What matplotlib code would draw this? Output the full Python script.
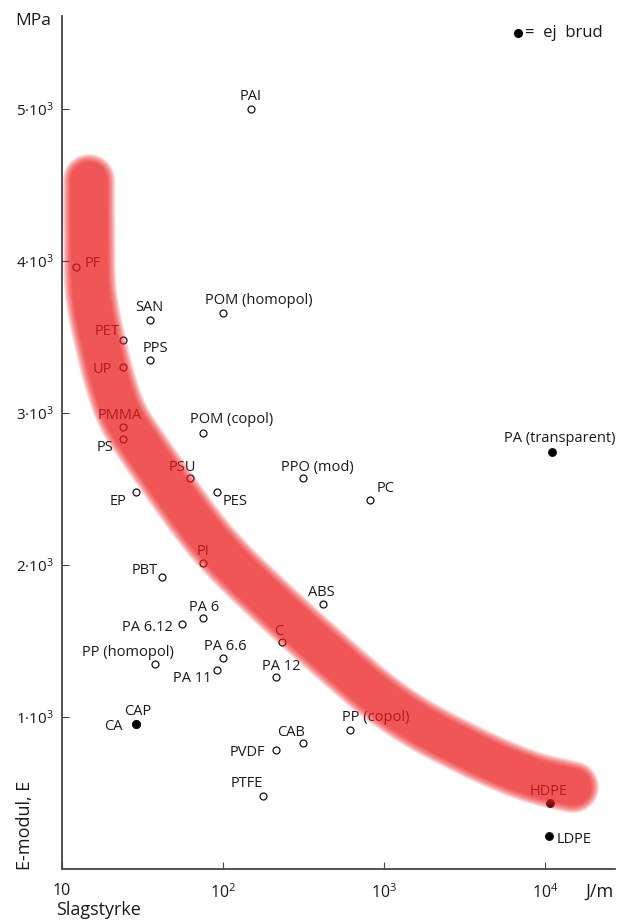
import matplotlib

matplotlib.use("Agg")
import matplotlib.pyplot as plt
from matplotlib.path import Path
from matplotlib.patches import PathPatch
from matplotlib.ticker import FixedLocator, FixedFormatter, NullLocator

plt.rcParams["font.family"] = ["Open Sans", "DejaVu Sans"]
plt.rcParams["mathtext.fontset"] = "custom"
plt.rcParams["mathtext.rm"] = "Open Sans"
plt.rcParams["mathtext.it"] = "Open Sans:italic"
plt.rcParams["mathtext.bf"] = "Open Sans:bold"

# plastics: impact strength (J/m) vs. elastic modulus (MPa)
names = [
    "PAI", "PF", "SAN", "POM (homopol)", "PET", "PPS", "UP", "PMMA", "PS",
    "POM (copol)", "PSU", "PPO (mod)", "PC", "PA (transparent)", "EP", "PES",
    "PI", "PBT", "ABS", "PA 6", "PA 6.12", "C", "PP (homopol)", "PA 6.6",
    "PA 11", "PA 12", "CAP", "CA", "CAB", "PVDF", "PTFE", "PP (copol)",
    "HDPE", "LDPE",
]
impact = [
    150, 12.2, 35, 100, 24, 35, 24, 24, 24,
    75, 62, 315, 820, 11000, 29, 92,
    75, 42, 420, 75, 56, 232, 38, 100,
    92, 215, 29, 29, 315, 213, 177, 615,
    10700, 10600,
]
modulus = [
    5000, 3960, 3610, 3660, 3480, 3350, 3300, 2910, 2830,
    2870, 2570, 2570, 2430, 2740, 2480, 2480,
    2010, 1920, 1740, 1650, 1610, 1490, 1350, 1390,
    1310, 1260, 955, 955, 830, 785, 480, 915,
    435, 215,
]
no_break = {"PA (transparent)", "CAP", "CA", "HDPE", "LDPE"}

# trend band centre line, read along the band
band_x = [14.7, 14.7, 15.1, 17.7, 19.9, 23.6, 32.3, 44.9, 63.2, 91.8, 170, 443, 1138, 2966, 7730, 14900]
band_y = [4530, 4010, 3740, 3410, 3200, 2970, 2760, 2540, 2320, 2100, 1820, 1420, 1046, 803, 605, 539]

x_ticks = [10, 100, 1000, 10000]
x_tick_labels = ["10", "10$^2$", "10$^3$", "10$^4$"]
y_ticks = [1000, 2000, 3000, 4000, 5000]
y_tick_labels = ["1·10$^3$", "2·10$^3$", "3·10$^3$", "4·10$^3$", "5·10$^3$"]

# label placement (offset pixels of text centre from the point)
label_offsets = {
    "PAI": (-1, 12), "PF": (17, 3), "SAN": (0, 13), "POM (homopol)": (36, 12),
    "PET": (-16, 8), "PPS": (6, 11), "UP": (-21, -2), "PMMA": (-3, 11),
    "PS": (-18, -9), "POM (copol)": (29, 13), "PSU": (-7, 11),
    "PPO (mod)": (14, 11), "PC": (16, 11), "PA (transparent)": (8, 14),
    "EP": (-18, -10), "PES": (18, -10), "PI": (0, 12), "PBT": (-18, 7),
    "ABS": (-2, 12), "PA 6": (1, 11), "PA 6.12": (-35, -3), "C": (-3, 11),
    "PP (homopol)": (-27, 11), "PA 6.6": (2, 11), "PA 11": (-25, -9),
    "PA 12": (5, 11), "CAP": (1, 12), "CA": (-23, -3), "CAB": (-12, 10),
    "PVDF": (-28, -3), "PTFE": (-16, 12), "PP (copol)": (26, 12),
    "HDPE": (-1, 11), "LDPE": (25, -3),
}


def smooth_band_path(xs, ys):
    # quadratic curves: read points act as control points, midpoints lie on the curve
    verts = [(xs[0], ys[0])]
    codes = [Path.MOVETO]
    for i in range(1, len(xs) - 1):
        mid = ((xs[i] * xs[i + 1]) ** 0.5, (ys[i] + ys[i + 1]) / 2)
        verts += [(xs[i], ys[i]), mid]
        codes += [Path.CURVE3, Path.CURVE3]
    verts.append((xs[-1], ys[-1]))
    codes.append(Path.LINETO)
    return Path(verts, codes)


fig = plt.figure(figsize=(6.18, 9.21), dpi=100)
ax = fig.add_axes([0.1003, 0.0565, 0.8947, 0.9261])
ax.set_xscale("log")
ax.set_xlim(10, 27200)
ax.set_ylim(0, 5610)

px = 0.72  # points per pixel at 100 dpi
band_path = smooth_band_path(band_x, band_y)
for w in [52, 49, 46, 43, 40, 37]:
    patch = PathPatch(band_path, fill=False, edgecolor="#ee1c1c", alpha=0.2,
                      linewidth=w * px, capstyle="round", joinstyle="round", zorder=4)
    ax.add_patch(patch)

for name, x, y in zip(names, impact, modulus):
    filled = name in no_break
    ax.plot(x, y, marker="o", markersize=5.5 if filled else 5,
            markerfacecolor="black" if filled else "white",
            markeredgecolor="#111111", markeredgewidth=0.9, linestyle="none", zorder=3)
    dx, dy = label_offsets[name]
    ax.annotate(name, (x, y), xytext=(dx, dy), textcoords="offset pixels",
                ha="center", va="center", fontsize=10.5, color="#1a1a1a", zorder=3)

for side in ["top", "right"]:
    ax.spines[side].set_visible(False)
for side in ["left", "bottom"]:
    ax.spines[side].set_color("#444444")
    ax.spines[side].set_linewidth(1.3)

ax.xaxis.set_major_locator(FixedLocator(x_ticks))
ax.xaxis.set_major_formatter(FixedFormatter(x_tick_labels))
ax.xaxis.set_minor_locator(NullLocator())
ax.yaxis.set_major_locator(FixedLocator(y_ticks))
ax.yaxis.set_major_formatter(FixedFormatter(y_tick_labels))
ax.tick_params(axis="x", direction="in", length=5, width=0.8, pad=10,
               labelsize=11.5, colors="#444444", labelcolor="#1a1a1a")
ax.tick_params(axis="y", direction="in", length=5, width=0.8, pad=6,
               labelsize=11, colors="#444444", labelcolor="#1a1a1a")

fig.text(15 / 618, 1 - 21 / 921, "MPa", fontsize=12.5, ha="left", va="center", color="#1a1a1a")
fig.text(25 / 618, 1 - 825 / 921, "E-modul, E", fontsize=13, rotation=90,
         ha="center", va="center", color="#1a1a1a")
fig.text(56 / 618, 1 - 910 / 921, "Slagstyrke", fontsize=13, ha="left", va="center", color="#1a1a1a")
fig.text(600 / 618, 1 - 892 / 921, "J/m", fontsize=13, ha="center", va="center", color="#1a1a1a")

ax.plot([518 / 618], [1 - 33 / 921], marker="o", markersize=5.5, color="black",
        transform=fig.transFigure, clip_on=False)
fig.text(525 / 618, 1 - 33 / 921, "=  ej  brud", fontsize=12, ha="left", va="center", color="#1a1a1a")

fig.savefig("out.png", dpi=100)
